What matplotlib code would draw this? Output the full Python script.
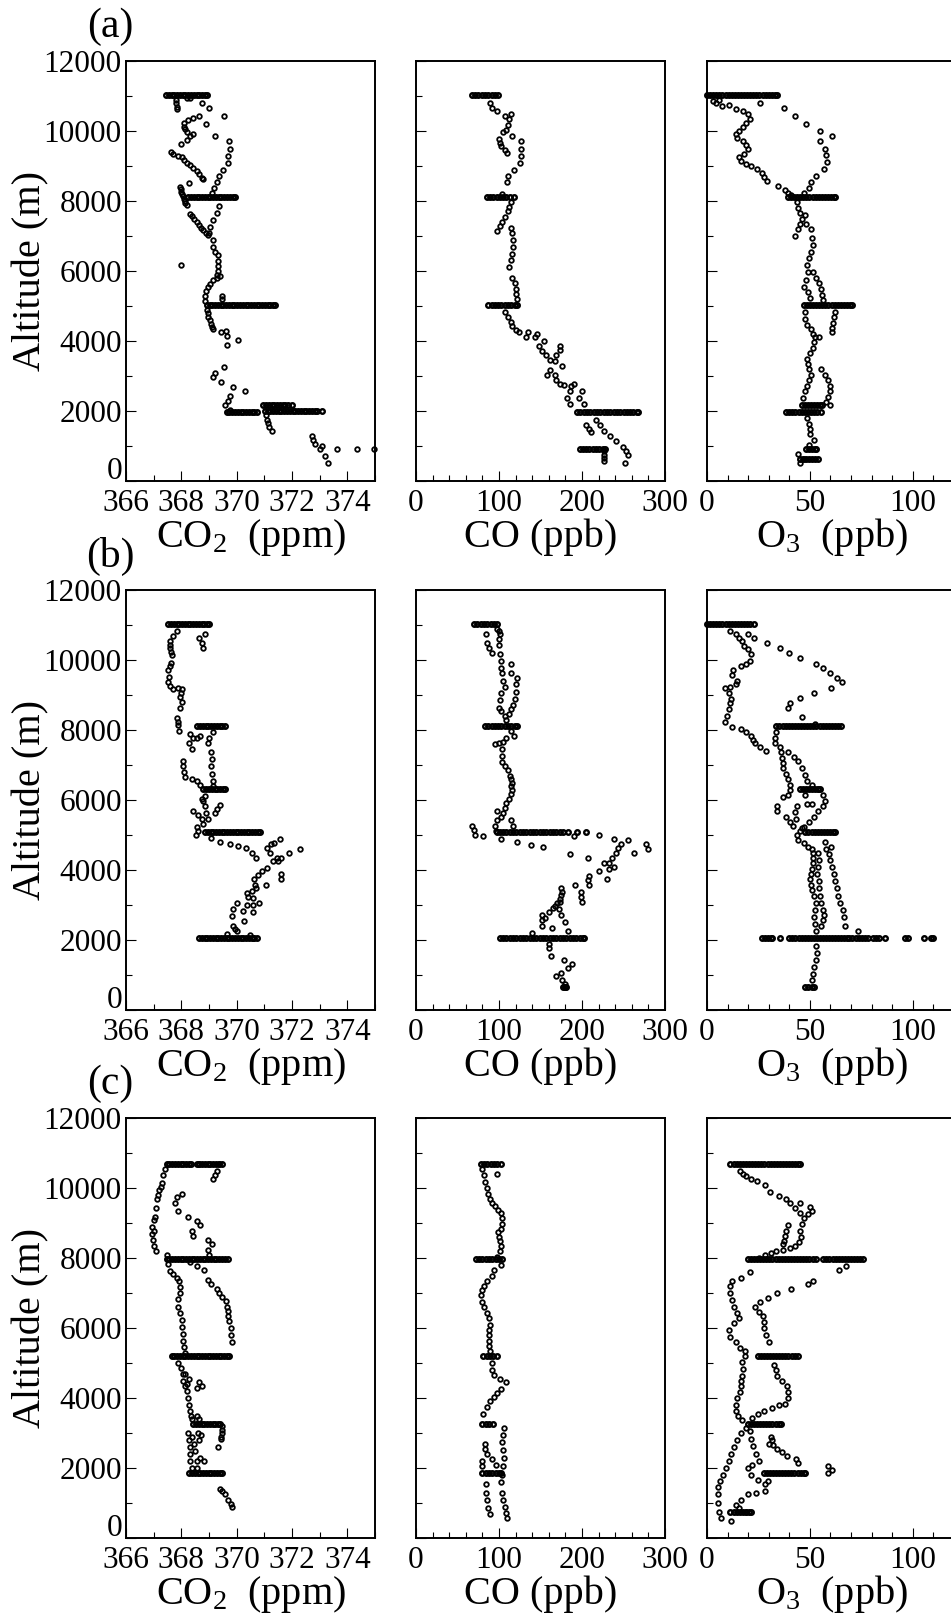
import matplotlib.pyplot as plt
import numpy as np
from matplotlib.ticker import MultipleLocator, FuncFormatter

plt.rcParams['font.family'] = 'Liberation Serif'
plt.rcParams['mathtext.fontset'] = 'custom'
plt.rcParams['mathtext.rm'] = 'Liberation Serif'
plt.rcParams['mathtext.it'] = 'Liberation Serif:italic'
plt.rcParams['mathtext.bf'] = 'Liberation Serif:bold'

# profile points: (value, altitude m)
# legs: (altitude m, [values along the level flight leg])

# ---------------- (a) ----------------
co2_a = [(367.80, 10900), (367.82, 10800), (367.84, 10700), (367.86, 10620), (368.22, 10950), (368.30, 10940),
         (368.76, 10790), (369.01, 10650), (369.54, 10420), (368.64, 10430), (368.43, 10370), (368.23, 10320),
         (368.10, 10220), (368.10, 10120), (368.12, 10060), (368.19, 9970), (368.43, 9910), (368.30, 9870),
         (368.19, 9740), (368.00, 9630), (368.90, 10210), (369.20, 9870), (369.72, 9710), (369.75, 9500),
         (369.69, 9300), (369.69, 9100), (369.49, 8890), (369.37, 8710), (369.28, 8550), (369.19, 8380), (369.10, 8240),
         (367.61, 9400), (367.71, 9350), (367.89, 9300), (368.01, 9250), (368.10, 9170), (368.19, 9100), (368.31, 9030),
         (368.43, 8950), (368.55, 8850), (368.65, 8760), (368.73, 8670), (368.78, 8630), (368.28, 8520),
         (367.95, 8400), (367.97, 8330), (368.00, 8270), (368.02, 8200), (368.05, 8130), (368.08, 8060), (368.12, 8000),
         (368.15, 7950), (368.20, 7900),
         (369.36, 7870), (369.28, 7660), (369.16, 7460), (369.04, 7250), (369.00, 7090),
         (368.31, 7630), (368.37, 7560), (368.45, 7480), (368.55, 7400), (368.63, 7320), (368.72, 7230), (368.80, 7160),
         (368.88, 7090), (368.95, 7030),
         (369.16, 6880), (369.16, 6700), (369.22, 6530), (369.34, 6450), (369.34, 6300), (369.34, 6150), (369.34, 6000),
         (369.30, 5900), (369.38, 5850), (369.30, 5800), (368.00, 6180),
         (369.16, 5750), (369.04, 5640), (368.95, 5550), (368.89, 5440), (368.86, 5290), (368.86, 5140),
         (369.46, 5290), (369.46, 5190),
         (368.92, 4900), (368.95, 4800), (368.98, 4700), (369.02, 4600), (369.06, 4500), (369.10, 4400), (369.14, 4330),
         (369.43, 4250), (369.60, 4300), (369.64, 4130), (369.64, 3880), (370.06, 4030),
         (369.14, 2960), (369.23, 3100), (369.55, 3250), (369.43, 2820), (369.85, 2690), (370.30, 2560), (369.76, 2420),
         (369.70, 2300), (369.57, 2160), (369.76, 2030),
         (371.05, 1900), (371.08, 1750), (371.12, 1650), (371.18, 1530), (371.27, 1420),
         (372.71, 1280), (372.75, 1180), (372.84, 1070), (373.02, 920), (373.08, 1000), (373.20, 720), (373.31, 510),
         (373.64, 920), (374.34, 920), (374.98, 920)]
co2_a_legs = [
    (11020, [367.45, 367.55, 367.65, 367.75, 367.85, 367.95, 368.05, 368.15, 368.25, 368.35, 368.45, 368.55,
             368.65, 368.75, 368.85, 368.92]),
    (8120, [368.25, 368.35, 368.45, 368.55, 368.65, 368.75, 368.85, 368.95, 369.05, 369.15, 369.25, 369.35,
            369.45, 369.55, 369.65, 369.75, 369.85, 369.94]),
    (5030, [368.92, 369.02, 369.12, 369.22, 369.32, 369.42, 369.52, 369.62, 369.72, 369.82, 369.92, 370.02,
            370.12, 370.22, 370.32, 370.42, 370.52, 370.62, 370.72, 370.82, 370.92, 371.02, 371.12, 371.22,
            371.32, 371.39]),
    (1970, [369.64, 369.74, 369.84, 369.94, 370.04, 370.14, 370.24, 370.34, 370.44, 370.54, 370.64, 370.72]),
    (2160, [370.96, 371.06, 371.16, 371.26, 371.36, 371.46, 371.56, 371.66, 371.76, 371.86, 371.99]),
    (1990, [371.02, 371.12, 371.22, 371.32, 371.42, 371.52, 371.62, 371.72, 371.82, 371.92, 372.02, 372.12,
            372.22, 372.32, 372.42, 372.52, 372.62, 372.72, 372.82, 372.92, 373.07]),
]

co_a = [(89, 10790), (91, 10660), (97, 10580), (107, 10430), (114, 10480), (112, 10330), (111, 10170), (109, 10020),
        (105, 9970), (116, 9860), (100, 9760), (101, 9660), (103, 9560), (107, 9450), (110, 9370), (126, 9710),
        (127, 9500), (126, 9300), (125, 9090), (118, 8890), (111, 8710), (110, 8530), (104, 8200),
        (114, 7960), (112, 7830), (111, 7710), (107, 7550), (104, 7400), (101, 7290), (97, 7140), (115, 7240),
        (116, 7090), (117, 6900), (117, 6700), (116, 6490), (114, 6320), (112, 6110), (116, 5800), (119, 5650),
        (120, 5500), (121, 5340), (122, 5200),
        (107, 4830), (111, 4680), (114, 4540), (116, 4420), (120, 4320), (124, 4260), (133, 4110), (135, 4260),
        (143, 4110), (146, 4210), (154, 3990), (148, 3850), (152, 3720), (157, 3600), (162, 3460), (169, 3600),
        (173, 3850), (173, 3730), (167, 3440), (161, 3180), (158, 3030), (167, 3030), (169, 2880), (174, 2770),
        (176, 3290), (178, 2750), (187, 2720), (190, 2770), (186, 2570), (182, 2360), (186, 2210), (200, 2570),
        (196, 2360), (203, 2210),
        (205, 1590), (208, 1490), (211, 1390), (217, 1750), (222, 1590), (227, 1440), (234, 1280), (241, 1130),
        (249, 980), (253, 870), (255, 740), (252, 510),
        (226, 850), (226, 750), (227, 650), (226, 580)]
co_a_legs = [
    (11020, [67, 71, 75, 79, 83, 87, 91, 95, 99]),
    (8120, [85, 89, 93, 97, 101, 105, 109, 113, 118]),
    (5030, [87, 91, 95, 99, 103, 107, 111, 115, 119, 122]),
    (1970, [194, 198, 202, 206, 210, 214, 218, 222, 226, 230, 234, 238, 242, 246, 250, 254, 258, 262, 266, 268]),
    (920, [197, 201, 205, 209, 213, 217, 221, 225, 228]),
]

o3_a = [(4.6, 10790), (7.1, 10720), (10.5, 10740), (13.9, 10630), (17.3, 10560), (19.8, 10480), (20.7, 10330),
        (19.0, 10220), (17.3, 10120), (15.6, 9990), (13.9, 9910), (14.7, 9810), (17.3, 9710), (19.0, 9610),
        (19.8, 9500), (18.1, 9350), (15.6, 9250), (16.4, 9140), (19.0, 9060), (21.5, 8990), (24.5, 8920),
        (26.6, 8800), (27.5, 8680), (29.2, 8580), (25.8, 10790), (3.0, 10850), (6.0, 10900),
        (37.6, 10650), (42.7, 10430), (48.3, 10200), (54.9, 10000), (60.8, 9860), (54.9, 9710), (57.1, 9500),
        (57.9, 9320), (58.3, 9110), (56.8, 8910), (52.9, 8710), (50.7, 8530), (49.5, 8370), (46.9, 8220),
        (34.7, 8420), (38.1, 8320), (39.3, 8220), (41.0, 8180),
        (43.6, 7960), (44.4, 7810), (45.3, 7650), (46.1, 7480), (45.3, 7350), (44.4, 7190), (42.7, 7010),
        (47.8, 7600), (48.3, 7350), (50.3, 7190), (51.2, 6940), (51.7, 6730), (50.5, 6550), (49.5, 6370),
        (48.8, 6160), (49.2, 5960), (48.1, 5750), (47.3, 5550), (49.2, 5390), (50.0, 5240), (51.4, 5960),
        (53.1, 5800), (54.3, 5650), (55.4, 5500), (55.8, 5320), (56.5, 5180),
        (62.2, 4830), (61.7, 4680), (61.0, 4520), (60.5, 4370), (60.5, 4260),
        (47.8, 4830), (47.5, 4620), (48.6, 4470), (50.3, 4340), (51.5, 4210), (52.4, 4110), (54.6, 4110),
        (52.2, 3960), (51.4, 3800), (50.0, 3650), (48.6, 3490), (49.0, 3340), (49.5, 3190), (50.3, 3030),
        (49.5, 2880), (48.6, 2720), (47.8, 2570), (46.6, 2380),
        (55.4, 3190), (57.5, 3030), (58.8, 2880), (59.7, 2720), (59.7, 2570), (58.8, 2410), (57.9, 2260),
        (59.7, 2160),
        (48.6, 1800), (49.5, 1640), (50.0, 1490), (50.0, 1340), (52.0, 1180), (49.5, 1030), (44.4, 770),
        (45.3, 510), (47.0, 620)]
o3_a_legs = [
    (11020, [0, 1.5, 3, 4.5, 6, 7.5, 9, 10.5, 12, 13.5, 15, 16.5, 18, 19.5, 21, 22.5, 24, 25.5, 27, 28.5, 30,
             31.5, 33, 34]),
    (8120, [39.3, 40.8, 42.3, 43.8, 45.3, 46.8, 48.3, 49.8, 51.3, 52.8, 54.3, 55.8, 57.3, 58.8, 60.3, 61.5, 62.2]),
    (5030, [47, 48.5, 50, 51.5, 53, 54.5, 56, 57.5, 59, 60.5, 62, 63.5, 65, 66.5, 68, 69.5, 70.7]),
    (1970, [38.5, 40, 41.5, 43, 44.5, 46, 47.5, 49, 50.5, 52, 53.5, 55.4]),
    (2160, [46, 47.5, 49, 50.5, 52, 53.5, 55, 56]),
    (920, [48, 49.5, 51, 52.5, 53]),
    (620, [45, 46.5, 48, 49.5, 51, 52.5, 54]),
]

# ---------------- (b) ----------------
co2_b = [(367.83, 10840), (367.69, 10690), (367.59, 10540), (367.59, 10430), (367.59, 10330), (367.62, 10230),
         (367.65, 10130), (367.61, 9920), (367.58, 9820), (367.53, 9720), (367.57, 9510), (367.53, 9360),
         (367.60, 9260), (367.71, 9160), (367.89, 9210), (368.01, 9160), (367.95, 8950), (368.01, 8800),
         (367.95, 8640), (367.98, 9050),
         (368.65, 10640), (368.73, 10490), (368.86, 10740), (368.80, 10350),
         (367.86, 8340), (367.89, 8130), (367.93, 7980), (367.88, 8240),
         (369.16, 7930), (369.01, 7780), (368.98, 7620), (369.06, 7370), (369.10, 7160), (369.06, 6960),
         (369.10, 6750), (369.13, 6550), (369.16, 6390),
         (368.31, 7880), (368.43, 7780), (368.29, 7620), (368.37, 7470), (368.55, 7780), (368.67, 7830),
         (368.05, 7110), (368.07, 6960), (368.11, 6800), (368.13, 6650), (368.37, 6600), (368.55, 6550),
         (368.67, 6440),
         (368.73, 6040), (368.86, 5830), (368.89, 5630), (369.40, 5850), (369.30, 5730), (369.20, 5630),
         (368.43, 5680), (368.61, 5580), (368.73, 5470), (368.80, 5320), (368.95, 5450), (368.55, 5220),
         (368.53, 5010), (368.60, 5120), (368.80, 5980), (368.85, 6120),
         (369.06, 4910), (369.40, 4810), (369.76, 4730), (370.06, 4690), (370.34, 4620), (370.54, 4480),
         (370.70, 4350), (371.08, 4620), (371.23, 4730), (371.57, 4890), (371.35, 4760), (371.20, 4500),
         (371.89, 4480), (372.29, 4600), (371.45, 4350), (371.30, 4250), (371.08, 4070), (370.90, 3970),
         (370.78, 3870), (370.63, 3730), (370.67, 3560), (371.06, 3580), (370.71, 3480), (370.55, 3400),
         (370.39, 3330), (370.42, 3220), (370.60, 3190), (370.36, 2990), (370.58, 2990), (370.82, 3050),
         (370.60, 2810), (370.02, 3050), (369.86, 2880), (369.84, 2680), (370.24, 2840), (370.27, 2540),
         (369.88, 2400), (369.95, 2310), (370.00, 2250), (369.64, 2170), (370.48, 2150), (370.60, 2050),
         (371.60, 3890), (371.60, 3730), (371.50, 4250), (371.60, 4330)]
co2_b_legs = [
    (11020, [367.53, 367.63, 367.73, 367.83, 367.93, 368.03, 368.13, 368.23, 368.33, 368.43, 368.53, 368.63,
             368.73, 368.83, 368.93, 369.01]),
    (8110, [368.58, 368.68, 368.78, 368.88, 368.98, 369.08, 369.18, 369.28, 369.38, 369.48, 369.58]),
    (6320, [368.80, 368.90, 369.00, 369.10, 369.20, 369.30, 369.40, 369.50, 369.58]),
    (5080, [368.86, 368.96, 369.06, 369.16, 369.26, 369.36, 369.46, 369.56, 369.66, 369.76, 369.86, 369.96,
            370.06, 370.16, 370.26, 370.36, 370.46, 370.56, 370.66, 370.76, 370.84]),
    (2050, [368.64, 368.74, 368.84, 368.94, 369.04, 369.14, 369.24, 369.34, 369.44, 369.54, 369.64, 369.74,
            369.84, 369.94, 370.04, 370.14, 370.24, 370.34, 370.44, 370.54, 370.64, 370.72]),
]

co_b = [(84, 10740), (86, 10480), (88, 10330), (91, 10210), (101, 10740), (100, 10590), (100, 10430), (101, 10180),
        (102, 9970), (103, 9770), (104, 9620), (105, 9410), (107, 9230), (115, 9900), (115, 9640), (122, 9490),
        (120, 9310), (121, 9100), (119, 8900), (117, 8720), (115, 8590), (112, 8470), (109, 8290), (102, 9050),
        (101, 8850), (100, 8640), (103, 8540), (107, 8390), (98, 10900), (100, 10820),
        (118, 7830), (115, 7960), (109, 7780), (105, 7650), (100, 7620), (95, 7600), (104, 7470), (104, 7260),
        (104, 7080), (107, 6960), (111, 6850), (113, 6700), (115, 6390), (116, 6290), (114, 6160), (112, 6040),
        (109, 5910), (107, 5780), (105, 5630), (102, 5520), (98, 5680), (97, 5420), (95, 5270), (96, 5120),
        (103, 4900), (115, 5420), (117, 5270), (116, 6500), (115, 6600),
        (68, 5270), (70, 5140), (71, 5010), (81, 4960), (122, 4810), (139, 4710), (153, 4650), (190, 4960),
        (220, 4990), (239, 4890), (247, 4730), (256, 4860), (263, 4480), (277, 4730), (280, 4600), (185, 4470),
        (207, 4350), (243, 4630), (241, 4500), (236, 4350), (232, 4210), (226, 4210), (233, 4040), (239, 4090),
        (220, 3960), (209, 3840), (207, 3710), (209, 3560), (191, 3580), (199, 3360), (199, 3220), (200, 3090),
        (230, 3730), (175, 3480), (174, 3170), (170, 3050), (172, 2880), (175, 2710), (165, 2920), (160, 2810),
        (152, 2710), (152, 2560), (152, 2400), (164, 2350), (180, 2510), (183, 2250), (140, 2200), (176, 3380),
        (175, 3280), (173, 3100), (168, 2960), (155, 2620),
        (160, 1890), (160, 1760), (163, 1550), (178, 1430), (188, 1310), (183, 1210), (175, 1070), (169, 970),
        (180, 660), (179, 740), (176, 850)]
co_b_legs = [
    (11020, [70, 74, 78, 82, 86, 90, 94, 98]),
    (8110, [83, 87, 91, 95, 99, 103, 107, 111, 115, 119, 122]),
    (5080, [97, 101, 105, 109, 113, 117, 121, 125, 129, 133, 137, 141, 145, 149, 153, 157, 161, 165, 169, 173,
            177, 183, 194, 205]),
    (2050, [101, 105, 109, 113, 117, 121, 125, 129, 133, 137, 141, 145, 149, 153, 157, 161, 165, 169, 173, 177,
            181, 185, 189, 193, 197, 201, 203]),
    (660, [177, 179, 181]),
]

o3_b = [(11.4, 10840), (13.9, 10740), (15.5, 10640), (16.8, 10540), (18.1, 10410), (19.8, 10310), (21.5, 10180),
        (20.7, 9970), (19.0, 9900), (16.4, 9820), (12.7, 9720), (12.2, 9560), (14.4, 9410), (13.9, 9310),
        (11.4, 9230), (8.8, 9190), (10.5, 9050), (11.5, 8900), (11.4, 8780), (10.5, 8590), (9.7, 8410),
        (8.8, 8240), (12.2, 8100), (16.4, 8030), (19.0, 7930), (21.5, 7830), (22.4, 7720), (23.5, 7620),
        (25.8, 7520), (28.8, 7400),
        (19.8, 10740), (22.7, 10640), (29.2, 10490), (35.6, 10350), (39.7, 10200), (45.3, 10060), (53.2, 9900),
        (56.3, 9770), (59.7, 9640), (63.4, 9490), (65.6, 9360), (60.2, 9210), (52.0, 9050), (45.3, 8920),
        (40.5, 8780), (39.3, 8640), (46.1, 8360), (52.5, 8180),
        (33.4, 7930), (33.1, 7780), (33.1, 7620), (35.4, 7520), (35.9, 7370), (36.4, 7190), (36.8, 7050),
        (37.1, 6910), (38.5, 6750), (39.5, 6600), (40.2, 6420), (40.5, 6280), (39.5, 6140), (36.8, 6090),
        (33.9, 5830), (34.2, 5680), (38.5, 5520), (40.5, 5370), (42.0, 5250),
        (39.3, 7370), (42.2, 7240), (44.4, 7110), (46.0, 6920), (47.8, 6720), (48.6, 6550), (51.2, 6440),
        (53.7, 6320), (56.3, 6140), (57.1, 5980), (56.3, 5830), (54.0, 5680), (52.0, 5520), (49.5, 5370),
        (47.0, 5240), (45.0, 5110), (43.6, 4990), (44.4, 4860), (47.0, 4760), (49.0, 4650), (51.2, 4600),
        (43.6, 5830), (43.0, 5650), (43.1, 5470), (46.0, 5200), (47.8, 6140), (48.8, 5880), (51.0, 5900),
        (51.7, 4500), (51.6, 4350), (51.4, 4190), (50.8, 4040), (50.3, 3890), (50.0, 3730), (50.5, 3580),
        (51.2, 3420), (52.0, 3270), (52.9, 3070), (52.4, 2860), (52.0, 2660), (52.4, 2460), (52.9, 2250),
        (53.7, 4500), (54.2, 4300), (53.7, 4090), (53.5, 3890), (54.2, 3680), (54.6, 3480), (55.1, 3270),
        (55.5, 3070), (56.3, 2860), (56.8, 2710), (56.3, 2560), (55.4, 2400),
        (57.1, 4810), (57.9, 4600), (59.2, 4450), (59.8, 4300), (60.5, 4090), (61.7, 3890), (62.2, 3680),
        (63.0, 3480), (63.9, 3270), (64.8, 3070), (65.9, 2860), (66.5, 2660), (67.3, 2400), (60.2, 4650),
        (73.6, 2250),
        (52.9, 1840), (53.4, 1640), (52.9, 1430), (52.0, 1230), (51.7, 1020), (51.2, 870)]
o3_b_legs = [
    (11020, [0, 1.5, 3, 4.5, 6, 7.5, 9, 10.5, 12, 13.5, 15, 16.5, 18, 19.5, 21, 22.7]),
    (8110, [33.7, 35.2, 36.7, 38.2, 39.7, 41.2, 42.7, 44.2, 45.7, 47.2, 48.7, 50.2, 51.7, 53.2, 54.7, 56.2, 57.7,
            59.2, 60.7, 62.2, 63.7, 65.3]),
    (6320, [45, 46.5, 48, 49.5, 51, 52.5, 54, 55]),
    (5080, [47.8, 49.3, 50.8, 52.3, 53.8, 55.3, 56.8, 58.3, 59.8, 61.3, 62.2]),
    (2050, [26.6, 28, 29.5, 31, 31.7, 35.4, 40, 41.5, 43, 44.5, 46, 47.5, 49, 50.5, 52, 53.5, 55, 56.5, 58,
            59.5, 60.5, 62, 63.5, 65, 66.5, 68, 69, 70.7, 72.2, 73.7, 75.2, 76.7, 78.3, 80.8, 82.3, 83.4, 86.3,
            96.1, 97.5, 105.4, 108.8, 110]),
    (660, [47.8, 49.3, 50.8, 52]),
]

# ---------------- (c) ----------------
co2_c = [(367.40, 10550), (367.35, 10380), (367.29, 10130), (367.20, 9930), (367.11, 9700), (367.07, 9430),
         (367.05, 9180), (367.01, 9080), (366.93, 8880), (366.93, 8680), (366.99, 8510), (367.01, 8340),
         (367.08, 8190), (367.47, 8090), (367.53, 7840), (367.59, 7640), (367.71, 7540), (367.83, 7440),
         (367.92, 7340), (367.95, 7160), (367.95, 6990), (367.89, 6840), (367.89, 6590), (367.95, 6440),
         (368.01, 6240), (368.01, 6040), (368.05, 5840), (368.07, 5640), (368.10, 5450), (368.13, 5290),
         (367.25, 10020), (367.15, 9800), (367.00, 8780),
         (368.64, 10680), (369.37, 10680), (369.28, 10480), (369.20, 10370), (369.16, 10260),
         (368.01, 9830), (367.86, 9730), (367.77, 9580), (367.87, 9330), (368.25, 9180), (368.55, 9060),
         (368.67, 8930), (368.37, 8780), (368.41, 8640), (368.98, 8510), (369.10, 8390), (368.98, 8240),
         (369.00, 8100),
         (368.31, 7890), (368.55, 7770), (368.82, 7670), (368.98, 7370), (369.06, 7270), (369.28, 7120),
         (369.37, 7010), (369.46, 6890), (369.61, 6770), (369.64, 6610), (369.67, 6480), (369.70, 6340),
         (369.73, 6190), (369.78, 5990), (369.80, 5790), (369.82, 5590),
         (367.89, 4990), (368.00, 4850), (368.05, 4690), (368.07, 4490), (368.13, 4340), (368.19, 4190),
         (368.25, 3990), (368.29, 3790), (368.31, 3640), (368.34, 3490), (368.40, 3400), (368.55, 3490),
         (368.65, 3390), (368.29, 4540), (368.65, 4470), (368.55, 4290), (368.73, 4340), (368.15, 4700),
         (368.20, 4400),
         (368.25, 2990), (368.26, 2800), (368.31, 2600), (368.31, 2400), (368.33, 2200), (368.37, 2000),
         (368.55, 2200), (368.55, 2000), (368.67, 2300), (368.82, 2200), (368.65, 2800), (368.61, 2990),
         (368.70, 2950), (368.40, 2900), (368.45, 2700), (368.50, 2500),
         (369.46, 3200), (369.46, 3100), (369.46, 3000), (369.45, 2900), (369.42, 2820), (369.34, 2600),
         (369.40, 1400), (369.48, 1330), (369.58, 1250), (369.70, 1100), (369.78, 980), (369.84, 880)]
co2_c_legs = [
    (10700, [367.47, 367.57, 367.67, 367.77, 367.87, 367.97, 368.07, 368.17, 368.27, 368.34]),
    (10700, [368.55, 368.65, 368.75, 368.85, 368.95, 369.05, 369.15, 369.25, 369.35, 369.46]),
    (7960, [367.47, 367.57, 367.67, 367.77, 367.87, 367.97, 368.07, 368.17, 368.27, 368.37, 368.47, 368.57,
            368.67, 368.77, 368.87, 368.97, 369.07, 369.17, 369.27, 369.37, 369.47, 369.57, 369.67]),
    (5210, [367.65, 367.75, 367.85, 367.95, 368.05, 368.15, 368.25, 368.35, 368.45, 368.55, 368.65, 368.75,
            368.85, 368.95, 369.05, 369.15, 369.25, 369.35, 369.45, 369.55, 369.65, 369.73]),
    (3260, [368.43, 368.53, 368.63, 368.73, 368.83, 368.93, 369.03, 369.13, 369.23, 369.33, 369.40]),
    (1850, [368.29, 368.39, 368.49, 368.59, 368.69, 368.79, 368.89, 368.99, 369.09, 369.19, 369.29, 369.39,
            369.46]),
]

co_c = [(98, 10400), (80, 10550), (82, 10380), (83, 10180), (85, 10000), (87, 9830), (89, 9680), (92, 9580),
        (95, 9480), (99, 9380), (102, 9280), (104, 9130), (104, 8980), (102, 8830), (99, 8730), (100, 8600),
        (101, 8490), (102, 8340), (101, 8190), (98, 8040),
        (102, 7790), (94, 7670), (91, 7490), (85, 7340), (82, 7200), (80, 7090), (78, 6940), (80, 6740),
        (82, 6590), (85, 6440), (88, 6290), (89, 6090), (88, 5940), (88, 5790), (88, 5640), (88, 5490), (89, 5350),
        (92, 4990), (92, 4790), (94, 4650), (101, 4540), (108, 4470), (103, 4270), (98, 4150), (94, 4040),
        (89, 3910), (85, 3750), (81, 3540),
        (106, 3140), (105, 2940), (104, 2740), (105, 2520), (106, 2300), (105, 2050), (104, 1800), (103, 1600),
        (83, 2700), (83, 2550), (85, 2400), (79, 2200), (80, 2050), (92, 2250), (96, 2100),
        (84, 1550), (84, 1300), (85, 1100), (87, 850), (89, 700), (104, 1280), (105, 1100), (107, 900),
        (109, 720), (110, 570)]
co_c_legs = [
    (10700, [78, 82, 86, 90, 94, 98, 102]),
    (7960, [72, 76, 80, 84, 88, 92, 96, 100, 104]),
    (5210, [81, 85, 89, 93, 97]),
    (3260, [80, 84, 88, 93]),
    (1850, [80, 84, 88, 92, 96, 100, 103]),
]

o3_c = [(16.1, 10480), (17.5, 10400), (19.0, 10330), (21.5, 10250), (24.5, 10200), (28.3, 10080), (30.8, 9880),
        (35.1, 9760), (38.5, 9700), (40.5, 9580), (42.7, 9430), (45.3, 9280), (47.0, 9130), (49.0, 9250),
        (51.2, 9330), (45.3, 9580), (50.0, 9450), (46.1, 8980), (45.3, 8780), (45.8, 8590), (44.5, 8450),
        (42.7, 8340), (40.2, 8290), (36.8, 8240), (33.7, 8190), (31.0, 8140), (28.3, 8090), (25.5, 8000),
        (39.3, 8930), (38.5, 8780), (38.1, 8640), (37.5, 8500), (36.8, 8390),
        (64.2, 7670), (67.6, 7770), (49.0, 7270), (51.7, 7340), (41.0, 7120), (34.2, 7010), (29.7, 6870),
        (25.8, 6740), (23.2, 6610), (25.5, 6470), (27.3, 6340), (27.5, 6160), (27.6, 5990), (28.5, 5790),
        (30.0, 5590),
        (20.7, 7590), (16.4, 7440), (12.2, 7340), (11.4, 7190), (11.0, 6990), (12.0, 6790), (13.1, 6590),
        (14.5, 6440), (15.6, 6290), (13.1, 6140), (10.5, 5940), (11.4, 5740), (13.9, 5590), (16.0, 5440),
        (18.5, 5340), (18.5, 5190), (17.1, 5040), (17.5, 4840), (17.1, 4640), (16.5, 4490), (16.4, 4340),
        (16.0, 4160), (14.7, 3990), (14.0, 3800), (13.9, 3640), (15.0, 3500), (17.0, 3380),
        (32.5, 4940), (33.5, 4790), (34.2, 4640), (36.5, 4490), (38.8, 4340), (39.5, 4160), (39.3, 3990),
        (38.0, 3840), (35.1, 3790), (31.4, 3710), (27.5, 3640), (24.9, 3540), (22.0, 3420),
        (19.0, 3140), (16.4, 2990), (14.5, 2800), (13.1, 2600), (11.8, 2400), (10.5, 2200), (9.2, 2000),
        (8.0, 1800), (6.5, 1620), (5.4, 1450), (5.4, 1250), (5.4, 1000), (5.9, 750), (6.6, 580),
        (21.0, 3050), (21.5, 2840), (22.5, 2640), (23.6, 2400), (25.5, 2200), (22.0, 2100), (19.8, 2000),
        (21.5, 1800), (25.0, 1650), (28.3, 1550), (29.5, 1620), (28.3, 1350), (24.0, 1300), (19.8, 1250),
        (16.5, 1100), (13.9, 950), (15.5, 850), (19.0, 750), (11.6, 500),
        (30.0, 2700), (32.0, 2650), (34.2, 2550), (36.5, 2450), (38.8, 2350), (43.2, 2250), (44.0, 2150),
        (58.8, 2050), (60.5, 1950), (58.6, 1850), (31.7, 2800), (31.0, 2900)]
o3_c_legs = [
    (10700, [11.4, 12.9, 14.4, 15.9, 17.4, 18.9, 20.4, 21.9, 23.4, 24.9, 26.4, 27.9, 29.4, 30.9, 32.4, 33.9,
             35.4, 36.9, 38.4, 39.9, 41.4, 42.9, 44.4, 45.3]),
    (7960, [19.8, 21.3, 22.8, 24.3, 25.8, 27.3, 28.8, 30.3, 31.8, 33.3, 34.8, 36.3, 37.8, 39.3, 40.8, 42.3, 43.8,
            45.3, 46.8, 48.3, 49.8, 51.3, 52.9]),
    (7960, [56.3, 58, 59.5, 61, 62.5, 64, 65.5, 67, 68.5, 70, 71.5, 73, 74.5, 75.8]),
    (5210, [24.6, 26.1, 27.6, 29.1, 30.6, 32.1, 33.6, 35.1, 36.6, 38.1, 39.6, 41.1, 42.6, 44.4]),
    (3260, [19.8, 21.3, 22.8, 24.3, 25.8, 27.3, 28.8, 30.3, 31.8, 33.3, 34.8, 35.9]),
    (1850, [27.5, 29, 30.5, 32, 33.5, 35, 36.5, 38, 39.5, 41, 42.5, 44, 45.5, 47, 47.8]),
    (750, [11.4, 12.9, 14.4, 15.9, 17.4, 18.9, 20.4, 21.5]),
]

panel_tags = ['(a)', '(b)', '(c)']
xlabels = ['CO$_2$  (ppm)', 'CO (ppb)', 'O$_3$  (ppb)']
xlims = [(366, 375), (0, 300), (0, 121)]
xmajor = [2, 100, 50]
xminor = [1, 20, 10]

rows = [[(co2_a, co2_a_legs), (co_a, co_a_legs), (o3_a, o3_a_legs)],
        [(co2_b, co2_b_legs), (co_b, co_b_legs), (o3_b, o3_b_legs)],
        [(co2_c, co2_c_legs), (co_c, co_c_legs), (o3_c, o3_c_legs)]]

# layout in pixels
W, H = 951, 1616
col_x = [126, 416, 707]
row_y = [61, 590, 1118]
aw, ah = 249, 420

fig = plt.figure(figsize=(W / 100, H / 100), dpi=100)
mk = dict(ls='none', marker='o', ms=3.3, mfc='none', mec='black', mew=1.3, clip_on=False)
mk_leg = dict(mk, mew=1.7)

# y tick labels without the "0", which is drawn sitting on the axis by hand
alt_fmt = FuncFormatter(lambda v, p: '' if v == 0 else '%d' % v)

for r in range(3):
    for c in range(3):
        pts, legs = rows[r][c]
        ax = fig.add_axes([col_x[c] / W, 1 - (row_y[r] + ah) / H, aw / W, ah / H])
        x, y = np.array(pts).T
        ax.plot(x, y, **mk)
        for alt, vals in legs:
            ax.plot(vals, [alt] * len(vals), **mk_leg)
        ax.set_xlim(*xlims[c])
        ax.set_ylim(0, 12000)
        ax.xaxis.set_major_locator(MultipleLocator(xmajor[c]))
        ax.xaxis.set_minor_locator(MultipleLocator(xminor[c]))
        ax.yaxis.set_major_locator(MultipleLocator(2000))
        ax.yaxis.set_minor_locator(MultipleLocator(1000))
        ax.tick_params(which='both', direction='in', top=False, right=False, width=0.8,
                       labelsize=22.5)
        ax.tick_params(which='major', length=7)
        ax.tick_params(which='minor', length=4)
        ax.tick_params(axis='x', pad=6)
        ax.tick_params(axis='y', pad=3)
        for s in ax.spines.values():
            s.set_linewidth(1.4)
        if c > 0:
            ax.set_yticklabels([])
        else:
            ax.yaxis.set_major_formatter(alt_fmt)
            ax.text(-4 / aw, 2 / ah, '0', transform=ax.transAxes, ha='right', va='baseline', fontsize=22.5)
        ax.text(0.5, -66 / ah, xlabels[c], transform=ax.transAxes, ha='center', va='baseline', fontsize=29)
    fig.text(31 / W, 1 - (row_y[r] + ah / 2) / H, 'Altitude (m)', rotation=90,
             ha='center', va='center', fontsize=29)
    fig.text(110 / W, 1 - (row_y[r] - 34) / H, panel_tags[r], ha='center', va='center', fontsize=30)

fig.savefig('out.png', dpi=100)
